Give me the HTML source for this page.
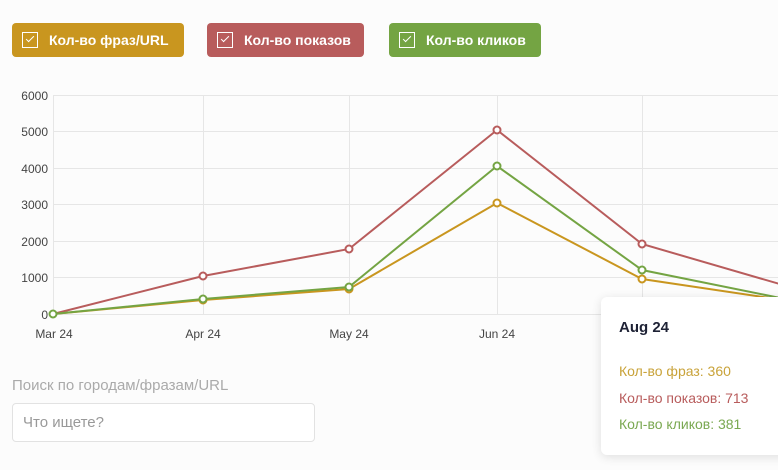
<!DOCTYPE html>
<html><head><meta charset="utf-8"><style>
body{margin:0;width:778px;height:470px;background:#fcfcfc;font-family:"Liberation Sans","DejaVu Sans",sans-serif;position:relative;overflow:hidden}
.b{position:absolute;top:23px;height:34px;border-radius:4px;color:#fff;font-weight:bold;font-size:14px;line-height:34px;box-sizing:border-box;padding-left:37px}
.b i{position:absolute;left:10px;top:9px;width:16px;height:16px;border:1.5px solid #fff;box-sizing:border-box}
.b i:after{content:"";position:absolute;left:4.5px;top:1px;width:3px;height:7px;border-right:1.5px solid #fff;border-bottom:1.5px solid #fff;transform:rotate(45deg)}
</style></head><body>
<div class="b" style="left:12px;width:172px;background:#c9961f"><i></i>Кол-во фраз/URL</div>
<div class="b" style="left:207px;width:157px;background:#b85c5c"><i></i>Кол-во показов</div>
<div class="b" style="left:389px;width:152px;background:#74a443"><i></i>Кол-во кликов</div>
<svg width="778" height="470" style="position:absolute;left:0;top:0">
<g stroke="#e6e6e6" stroke-width="1">
<line x1="53" y1="95.5" x2="778" y2="95.5"/><line x1="53" y1="131.5" x2="778" y2="131.5"/><line x1="53" y1="168.5" x2="778" y2="168.5"/><line x1="53" y1="204.5" x2="778" y2="204.5"/><line x1="53" y1="241.5" x2="778" y2="241.5"/><line x1="53" y1="277.5" x2="778" y2="277.5"/><line x1="53" y1="314.5" x2="778" y2="314.5"/>
<line x1="53.5" y1="95" x2="53.5" y2="314"/><line x1="203.5" y1="95" x2="203.5" y2="314"/><line x1="349.5" y1="95" x2="349.5" y2="314"/><line x1="497.5" y1="95" x2="497.5" y2="314"/><line x1="642.5" y1="95" x2="642.5" y2="314"/>
</g>
<g fill="none" stroke-width="2">
<polyline stroke="#b85c5c" points="53,314 203,276 349,249 497,130 642,244 790,287"/>
<polyline stroke="#c9961f" points="53,314 203,300 349,289 497,203 642,279 790,301"/>
<polyline stroke="#74a443" points="53,314 203,299 349,287 497,166 642,270 790,300"/>
</g>
<g fill="#fff" stroke-width="2">
<g stroke="#b85c5c"><circle cx="203" cy="276" r="3.5"/><circle cx="349" cy="249" r="3.5"/><circle cx="497" cy="130" r="3.5"/><circle cx="642" cy="244" r="3.5"/></g>
<g stroke="#c9961f"><circle cx="203" cy="300" r="3.5"/><circle cx="349" cy="289" r="3.5"/><circle cx="497" cy="203" r="3.5"/><circle cx="642" cy="279" r="3.5"/></g>
<g stroke="#74a443"><circle cx="53" cy="314" r="3.5"/><circle cx="203" cy="299" r="3.5"/><circle cx="349" cy="287" r="3.5"/><circle cx="497" cy="166" r="3.5"/><circle cx="642" cy="270" r="3.5"/></g>
</g>
<g font-size="12" fill="#444" font-family="Liberation Sans, sans-serif" text-anchor="end">
<text x="48" y="100">6000</text><text x="48" y="136">5000</text><text x="48" y="173">4000</text><text x="48" y="209">3000</text><text x="48" y="246">2000</text><text x="48" y="282">1000</text><text x="48" y="319">0</text>
</g>
<g font-size="12" fill="#444" font-family="Liberation Sans, sans-serif" text-anchor="middle">
<text x="54" y="338">Mar 24</text><text x="203" y="338">Apr 24</text><text x="349" y="338">May 24</text><text x="497" y="338">Jun 24</text>
</g>
</svg>
<div style="position:absolute;left:601px;top:297px;width:200px;height:158px;background:#fff;border-radius:6px;box-shadow:0 2px 10px rgba(0,0,0,0.12)">
<div style="position:absolute;left:18px;top:22px;font-weight:bold;font-size:15px;color:#1e2235">Aug 24</div>
<div style="position:absolute;left:18px;top:66px;font-size:14px;color:#c9a33a">Кол-во фраз: 360</div>
<div style="position:absolute;left:18px;top:93px;font-size:14px;color:#b85c5c">Кол-во показов: 713</div>
<div style="position:absolute;left:18px;top:119px;font-size:14px;color:#7aa851">Кол-во кликов: 381</div>
</div>
<div style="position:absolute;left:12px;top:377px;font-size:15px;color:#aaa">Поиск по городам/фразам/URL</div>
<div style="position:absolute;left:12px;top:403px;width:303px;height:39px;box-sizing:border-box;border:1px solid #e2e2e2;border-radius:4px;background:#fff;font-size:15px;color:#999;line-height:37px;padding-left:10px">Что ищете?</div>
</body></html>
